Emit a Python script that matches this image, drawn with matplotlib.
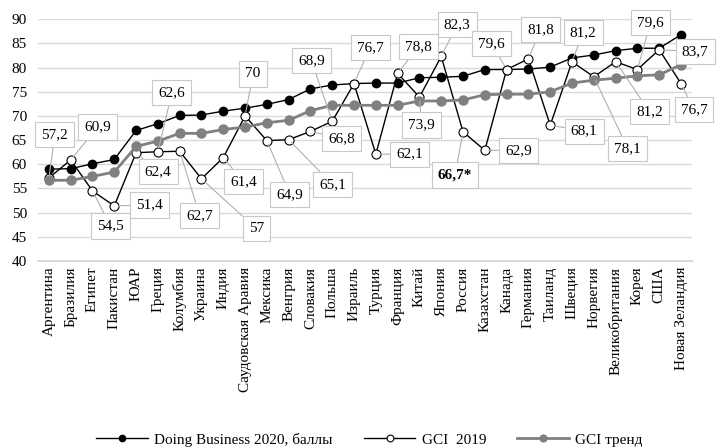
import matplotlib
matplotlib.use('Agg')
import matplotlib.pyplot as plt

plt.rcParams['font.family'] = ['Liberation Serif', 'DejaVu Serif']

countries = ['Аргентина', 'Бразилия', 'Египет', 'Пакистан', 'ЮАР', 'Греция',
             'Колумбия', 'Украина', 'Индия', 'Саудовская Аравия', 'Мексика',
             'Венгрия', 'Словакия', 'Польша', 'Израиль', 'Турция', 'Франция',
             'Китай', 'Япония', 'Россия', 'Казахстан', 'Канада', 'Германия',
             'Таиланд', 'Швеция', 'Норвегия', 'Великобритания', 'Корея', 'США',
             'Новая Зеландия']

doing_business = [59.0, 59.1, 60.1, 61.0, 67.0, 68.4, 70.1, 70.2, 71.0, 71.6,
                  72.4, 73.4, 75.6, 76.4, 76.7, 76.8, 76.8, 77.9, 78.0, 78.2,
                  79.6, 79.6, 79.7, 80.1, 82.0, 82.6, 83.5, 84.0, 84.0, 86.8]

gci_2019 = [57.2, 60.9, 54.5, 51.4, 62.4, 62.6, 62.7, 57.0, 61.4, 70.0,
            64.9, 65.1, 66.8, 68.9, 76.7, 62.1, 78.8, 73.9, 82.3, 66.7,
            62.9, 79.6, 81.8, 68.1, 81.2, 78.1, 81.2, 79.6, 83.7, 76.7]

gci_trend = [56.7, 56.7, 57.5, 58.4, 63.7, 64.8, 66.4, 66.4, 67.2, 67.7,
             68.6, 69.1, 71.1, 72.2, 72.2, 72.2, 72.2, 73.1, 73.1, 73.3,
             74.4, 74.5, 74.5, 75.0, 76.8, 77.4, 77.8, 78.3, 78.5, 80.6]

gci_labels = ['57,2', '60,9', '54,5', '51,4', '62,4', '62,6', '62,7', '57', '61,4', '70',
              '64,9', '65,1', '66,8', '68,9', '76,7', '62,1', '78,8', '73,9', '82,3', '66,7*',
              '62,9', '79,6', '81,8', '68,1', '81,2', '78,1', '81,2', '79,6', '83,7', '76,7']

# label box offsets from the point, in pixels
label_offsets = [(6, 43), (27, 33), (18, -35), (35, 1), (22, -19), (14, 59),
                 (20, -64), (55, -50), (20, -24), (8, 42), (23, -54), (44, -45),
                 (31, -7), (-21, 61), (16, 36), (34, 0), (21, 27), (2, -28),
                 (16, 32), (-8, -43), (34, 0), (-15, 26), (12, 29), (34, -6),
                 (11, 29), (34, -72), (34, -50), (13, 47), (36, -2), (13, -26)]

x = list(range(len(countries)))

fig = plt.figure(figsize=(7.17, 4.47), dpi=100)
ax = fig.add_axes([0.053, 0.416, 0.912, 0.541])

ax.plot(x, doing_business, color='black', lw=1.0, marker='o', ms=6,
        mfc='black', mec='black', label='Doing Business 2020, баллы', zorder=3)
ax.plot(x, gci_2019, color='black', lw=1.0, marker='o', ms=6.5,
        mfc='white', mec='black', mew=0.8, label='GCI  2019', zorder=4)
ax.plot(x, gci_trend, color='#808080', lw=2.0, marker='o', ms=6.5,
        mfc='#808080', mec='#808080', label='GCI тренд', zorder=5)

for i, (lab, off) in enumerate(zip(gci_labels, label_offsets)):
    ax.annotate(lab, xy=(x[i], gci_2019[i]), xytext=off, textcoords='offset pixels',
                ha='center', va='center', fontsize=11,
                fontweight='bold' if lab.endswith('*') else 'normal',
                bbox=dict(boxstyle='square,pad=0.4', fc='white', ec='#c8c8c8', lw=0.8),
                arrowprops=dict(arrowstyle='-', color='#b0b0b0', lw=0.8,
                                shrinkA=0, shrinkB=3),
                zorder=6)

ax.set_ylim(40, 90)
ax.set_yticks(range(40, 91, 5))
ax.set_xlim(-0.5, len(countries) - 0.5)
ax.set_xticks(x)
ax.set_xticklabels(countries, rotation=90, fontsize=11)
ax.tick_params(axis='y', labelsize=11, length=0, pad=8)
ax.tick_params(axis='x', length=0, pad=4)
ax.grid(axis='y', color='#d9d9d9', lw=1.0)
ax.set_axisbelow(True)
for s in ['top', 'right', 'left']:
    ax.spines[s].set_visible(False)
ax.spines['bottom'].set_color('#d9d9d9')
ax.spines['bottom'].set_linewidth(1.5)

fig.legend(loc='lower center', bbox_to_anchor=(0.515, -0.03), ncol=3, frameon=False,
           fontsize=11, handlelength=3.4, columnspacing=2.0, handletextpad=0.4,
           markerscale=0.75)

fig.savefig('out.png', dpi=100)
